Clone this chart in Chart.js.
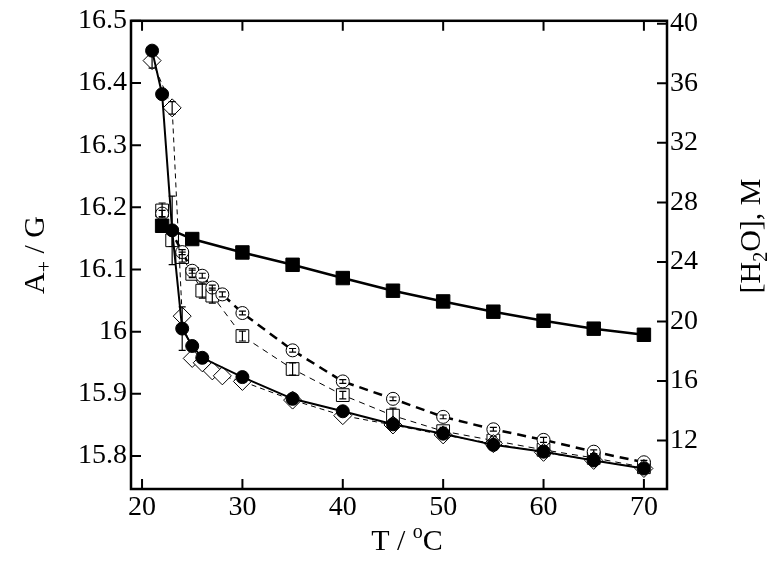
<!DOCTYPE html>
<html>
<head>
<meta charset="utf-8">
<script src="https://cdn.jsdelivr.net/npm/chart.js@4.4.0/dist/chart.umd.min.js"></script>
<style>
    html, body { margin: 0; padding: 0; background: #fff; }
    #wrap { width: 774px; height: 564px; }
</style>
</head>
<body>
<div id="wrap"><canvas id="grafik" width="774" height="564"></canvas></div>
<script>
// values (T in oC, A+ in G, [H2O] in M)
const tempCircle = [21, 22, 23, 24, 25, 26, 30, 35, 40, 45, 50, 55, 60, 65, 70];
const aCircle = [16.452, 16.382, 16.163, 16.005, 15.977, 15.958, 15.927, 15.892, 15.872, 15.851, 15.836, 15.818, 15.807, 15.793, 15.780];
const errCircle = [0, 0, 0.055, 0.035, 0, 0, 0, 0, 0, 0, 0, 0, 0, 0, 0];

const tempDiamond = [21, 23, 24, 25, 26, 27, 28, 30, 35, 40, 45, 50, 55, 60, 65, 70];
const aDiamond = [16.436, 16.360, 16.025, 15.957, 15.950, 15.937, 15.929, 15.920, 15.890, 15.865, 15.850, 15.834, 15.820, 15.806, 15.793, 15.780];
const errDiamond = [0.012, 0.01, 0, 0, 0, 0, 0, 0, 0, 0, 0, 0, 0, 0, 0, 0];

const tempRing = [22, 24, 25, 26, 27, 28, 30, 35, 40, 45, 50, 55, 60, 65, 70];
const aRing = [16.190, 16.128, 16.098, 16.090, 16.071, 16.060, 16.030, 15.970, 15.920, 15.892, 15.863, 15.843, 15.826, 15.807, 15.790];
const errRing = [0.005, 0.004, 0.004, 0.004, 0.004, 0.004, 0.003, 0.003, 0.003, 0.003, 0.003, 0.003, 0.004, 0.003, 0.003];

const tempBox = [22, 23, 24, 25, 26, 27, 30, 35, 40, 45, 50, 55, 60, 65, 70];
const aBox = [16.195, 16.147, 16.120, 16.093, 16.066, 16.058, 15.993, 15.940, 15.898, 15.865, 15.840, 15.825, 15.810, 15.797, 15.782];
const errBox = [0.012, 0.01, 0.008, 0.006, 0.012, 0.012, 0.008, 0.01, 0.006, 0.012, 0.006, 0.006, 0.006, 0.006, 0.006];

const tempWater = [22, 25, 30, 35, 40, 45, 50, 55, 60, 65, 70];
const water = [26.43, 25.54, 24.64, 23.81, 22.92, 22.07, 21.35, 20.66, 20.05, 19.52, 19.11];

const tickTemp = [20, 30, 40, 50, 60, 70];
const tickA = [15.8, 15.9, 16.0, 16.1, 16.2, 16.3, 16.4, 16.5];
const tickWater = [12, 16, 20, 24, 28, 32, 36, 40];

document.addEventListener("DOMContentLoaded", function() {
    const ctx = document.getElementById("grafik").getContext("2d");
    const serif = "'Liberation Serif', 'DejaVu Serif', serif";

    function points(xs, ys) {
        return xs.map((x, i) => ({ x: x, y: ys[i] }));
    }

    // draws a piece of text with sub/superscripts, centred on (x, y)
    function richText(c, parts, x, y, angle) {
        c.save();
        c.translate(x, y);
        c.rotate(angle);
        c.textBaseline = "alphabetic";
        c.textAlign = "left";
        let total = 0;
        parts.forEach(p => {
            c.font = p.size + "px " + serif;
            p.w = c.measureText(p.t).width;
            total += p.w;
        });
        let cx = -total / 2;
        parts.forEach(p => {
            c.font = p.size + "px " + serif;
            c.fillText(p.t, cx, 10 + (p.dy || 0));
            cx += p.w;
        });
        c.restore();
    }

    // inward ticks, closed frame, axis titles
    const frame = {
        id: "frame",
        afterDraw(chart) {
            const c = chart.ctx;
            const a = chart.chartArea;
            const s = chart.scales;
            c.save();
            c.strokeStyle = "#000";
            c.lineWidth = 2;
            c.beginPath();
            tickTemp.forEach(v => {
                const px = s.x.getPixelForValue(v);
                c.moveTo(px, a.bottom); c.lineTo(px, a.bottom - 10);
                c.moveTo(px, a.top); c.lineTo(px, a.top + 10);
            });
            tickA.forEach(v => {
                const py = s.y.getPixelForValue(v);
                c.moveTo(a.left, py); c.lineTo(a.left + 10, py);
            });
            tickWater.forEach(v => {
                const py = s.y2.getPixelForValue(v);
                c.moveTo(a.right, py); c.lineTo(a.right - 10, py);
            });
            c.stroke();
            c.lineWidth = 2.5;
            c.strokeRect(a.left, a.top, a.right - a.left, a.bottom - a.top);
            c.fillStyle = "#000";
            richText(c, [{ t: "A", size: 30 }, { t: "+", size: 20, dy: 7 }, { t: " / G", size: 30 }], 34, 255, -Math.PI / 2);
            richText(c, [{ t: "T / ", size: 30 }, { t: "o", size: 20, dy: -12 }, { t: "C", size: 30 }], 407, 540, 0);
            richText(c, [{ t: "[H", size: 30 }, { t: "2", size: 20, dy: 7 }, { t: "O], M", size: 30 }], 750, 236, -Math.PI / 2);
            c.restore();
        }
    };

    // vertical error bars with small caps
    const errorBars = {
        id: "errorBars",
        afterDatasetsDraw(chart) {
            const c = chart.ctx;
            c.save();
            c.strokeStyle = "#000";
            c.lineWidth = 1.2;
            chart.data.datasets.forEach(ds => {
                if (!ds.errors) return;
                const sy = chart.scales[ds.yAxisID];
                ds.data.forEach((p, j) => {
                    const e = ds.errors[j];
                    if (!e) return;
                    const px = chart.scales.x.getPixelForValue(p.x);
                    const top = sy.getPixelForValue(p.y + e);
                    const bot = sy.getPixelForValue(p.y - e);
                    c.beginPath();
                    c.moveTo(px, top); c.lineTo(px, bot);
                    c.moveTo(px - 3.5, top); c.lineTo(px + 3.5, top);
                    c.moveTo(px - 3.5, bot); c.lineTo(px + 3.5, bot);
                    c.stroke();
                });
            });
            c.restore();
        }
    };

    new Chart(ctx, {
        type: "scatter",
        data: {
            datasets: [
                {
                    data: points(tempCircle, aCircle), errors: errCircle, yAxisID: "y",
                    showLine: true, borderColor: "#000", borderWidth: 2,
                    pointStyle: "circle", pointRadius: 6.5, pointBackgroundColor: "#000",
                    pointBorderColor: "#000", pointBorderWidth: 1
                },
                {
                    data: points(tempWater, water), yAxisID: "y2",
                    showLine: true, borderColor: "#000", borderWidth: 2.5,
                    pointStyle: "rect", pointRadius: 9.5, pointBackgroundColor: "#000",
                    pointBorderColor: "#000", pointBorderWidth: 1
                },
                {
                    data: points(tempDiamond, aDiamond), errors: errDiamond, yAxisID: "y",
                    showLine: true, borderColor: "#000", borderWidth: 1, borderDash: [5, 4],
                    pointStyle: "rectRot", pointRadius: 9, pointBackgroundColor: "#fff",
                    pointBorderColor: "#000", pointBorderWidth: 1
                },
                {
                    data: points(tempRing, aRing), errors: errRing, yAxisID: "y",
                    showLine: true, borderColor: "#000", borderWidth: 2.5, borderDash: [9, 6],
                    pointStyle: "circle", pointRadius: 6.5, pointBackgroundColor: "#fff",
                    pointBorderColor: "#000", pointBorderWidth: 1
                },
                {
                    data: points(tempBox, aBox), errors: errBox, yAxisID: "y",
                    showLine: true, borderColor: "#000", borderWidth: 1, borderDash: [6, 5],
                    pointStyle: "rect", pointRadius: 9, pointBackgroundColor: "#fff",
                    pointBorderColor: "#000", pointBorderWidth: 1
                }
            ]
        },
        options: {
            responsive: false,
            animation: false,
            layout: { padding: { top: 20, left: 0, right: 0, bottom: 0 } },
            plugins: { legend: { display: false }, tooltip: { enabled: false } },
            scales: {
                x: {
                    type: "linear", min: 18.9, max: 72.3,
                    afterFit: scale => { scale.height = 75; },
                    afterBuildTicks: scale => { scale.ticks = tickTemp.map(v => ({ value: v })); },
                    grid: { drawOnChartArea: false, drawTicks: false },
                    border: { display: false },
                    ticks: { color: "#000", font: { family: serif, size: 28 }, padding: 2, maxRotation: 0 }
                },
                y: {
                    type: "linear", position: "left", min: 15.747, max: 16.5,
                    afterFit: scale => { scale.width = 131; },
                    afterBuildTicks: scale => { scale.ticks = tickA.map(v => ({ value: v })); },
                    grid: { drawOnChartArea: false, drawTicks: false },
                    border: { display: false },
                    ticks: {
                        color: "#000", font: { family: serif, size: 28 }, padding: 4,
                        callback: v => String(Math.round(v * 10) / 10)
                    }
                },
                y2: {
                    type: "linear", position: "right", min: 8.75, max: 40.2,
                    afterFit: scale => { scale.width = 107; },
                    afterBuildTicks: scale => { scale.ticks = tickWater.map(v => ({ value: v })); },
                    grid: { drawOnChartArea: false, drawTicks: false },
                    border: { display: false },
                    ticks: { color: "#000", font: { family: serif, size: 28 }, padding: 3 }
                }
            }
        },
        plugins: [errorBars, frame]
    });
});
</script>
</body>
</html>
